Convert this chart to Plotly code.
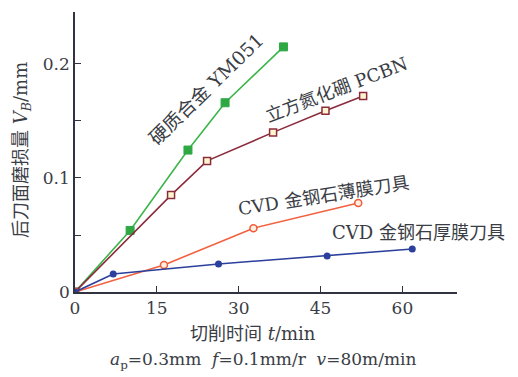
import plotly.graph_objects as go

# Data (cutting time t/min, flank wear VB/mm)
t_ym051 = [0, 10.1, 20.7, 27.5, 38.2]
vb_ym051 = [0, 0.054, 0.1245, 0.166, 0.215]

t_pcbn = [0, 17.6, 24.2, 36.3, 45.9, 52.8]
vb_pcbn = [0, 0.085, 0.115, 0.140, 0.159, 0.172]

t_thin = [0, 16.3, 32.7, 51.9]
vb_thin = [0, 0.0237, 0.056, 0.078]

t_thick = [0, 7.0, 26.3, 46.2, 61.8]
vb_thick = [0, 0.0158, 0.0246, 0.0316, 0.0377]

x_ticks = [0, 15, 30, 45, 60]
y_ticks = [0, 0.1, 0.2]
y_labels = ["0", "0.1", "0.2"]

FONT = "DejaVu Serif, Liberation Serif, Noto Sans CJK SC, serif"
TXT = "#3a3d45"
AX = "#2f3440"

fig = go.Figure()
fig.add_trace(go.Scatter(x=t_ym051, y=vb_ym051, mode="lines+markers",
                         line=dict(color="#3cb54a", width=1.6),
                         marker=dict(symbol="square", size=8, color="#2fa844",
                                     line=dict(color="#2fa844", width=1))))
fig.add_trace(go.Scatter(x=t_pcbn, y=vb_pcbn, mode="lines+markers",
                         line=dict(color="#8a2c3c", width=1.6),
                         marker=dict(symbol="square", size=7, color="#fff6d0",
                                     line=dict(color="#8a2c3c", width=1.5))))
fig.add_trace(go.Scatter(x=t_thin, y=vb_thin, mode="lines+markers",
                         line=dict(color="#f2603e", width=1.6),
                         marker=dict(symbol="circle", size=7, color="#fff0e0",
                                     line=dict(color="#ef5a3a", width=1.5))))
fig.add_trace(go.Scatter(x=t_thick, y=vb_thick, mode="lines+markers",
                         line=dict(color="#2b3f9c", width=1.6),
                         marker=dict(symbol="circle", size=7, color="#2b3f9c")))

# page body has an 8px margin, so the figure is drawn 8px in from the window edge
def px(xp):
    return (xp - 75) / 382

def py(yp):
    return (292 - yp) / 280

ann = [
    dict(text="硬质合金 YM051", x=px(206), y=py(89), textangle=-44, size=19),
    dict(text="立方氮化硼 PCBN", x=px(336), y=py(89), textangle=-21, size=18),
    dict(text="CVD 金钢石薄膜刀具", x=px(323), y=py(195), textangle=-9, size=18),
    dict(text="CVD 金钢石厚膜刀具", x=px(418), y=py(232), textangle=0, size=18),
    dict(text="切削时间 <i>t</i>/min", x=px(253), y=py(333), textangle=0, size=18),
    dict(text="<i>a</i><sub>p</sub>=0.3mm  <i>f</i>=0.1mm/r  <i>v</i>=80m/min",
         x=px(263), y=py(360), textangle=0, size=17),
    dict(text="后刀面磨损量 <i>V</i><sub><i>B</i></sub>/mm", x=px(22), y=py(150),
         textangle=-90, size=18),
]
for a in ann:
    fig.add_annotation(text=a["text"], x=a["x"], y=a["y"], xref="paper", yref="paper",
                       xanchor="center", yanchor="middle", textangle=a["textangle"],
                       showarrow=False, font=dict(family=FONT, size=a["size"], color=TXT))

fig.update_layout(
    width=510, height=369,
    margin=dict(l=67, r=61, t=4, b=85, autoexpand=False),
    paper_bgcolor="white", plot_bgcolor="white",
    showlegend=False,
    font=dict(family=FONT, size=17, color=TXT),
    xaxis=dict(range=[0, 70], tickvals=x_ticks, ticktext=[str(v) for v in x_ticks],
               ticks="inside", ticklen=6, tickcolor=AX, showline=True, linecolor=AX,
               linewidth=1.5, showgrid=False, zeroline=False, automargin=False,
               tickfont=dict(family=FONT, size=17, color=TXT)),
    yaxis=dict(range=[0, 0.2456], tickvals=y_ticks, ticktext=y_labels,
               ticks="inside", ticklen=6, tickcolor=AX, showline=True, linecolor=AX,
               linewidth=1.5, showgrid=False, zeroline=False, automargin=False,
               minor=dict(tick0=0, dtick=0.05, ticks="inside", ticklen=6,
                          tickcolor=AX, showgrid=False),
               tickfont=dict(family=FONT, size=17, color=TXT)),
)

fig.write_html("out.html")
